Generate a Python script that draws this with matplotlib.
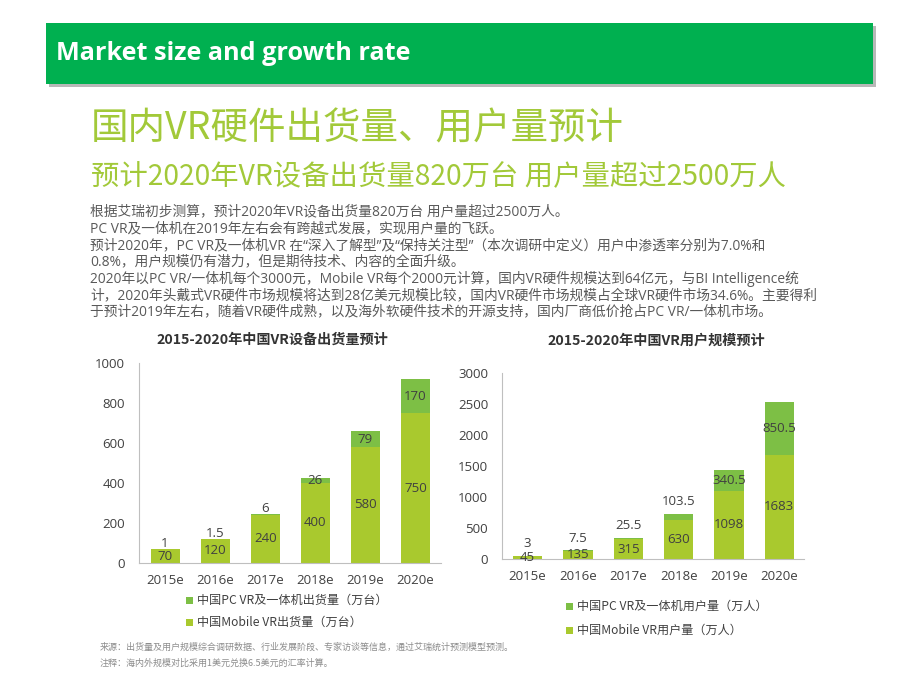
import matplotlib
matplotlib.use("Agg")
import matplotlib.pyplot as plt
from matplotlib.patches import Rectangle
import numpy as np

plt.rcParams['font.family'] = ['Noto Sans CJK SC', 'DejaVu Sans']
WIDE = ['Open Sans', 'Noto Sans CJK SC', 'DejaVu Sans']

years = ['2015e', '2016e', '2017e', '2018e', '2019e', '2020e']

# shipments (万台)
ship_mobile = [70, 120, 240, 400, 580, 750]
ship_pc = [1, 1.5, 6, 26, 79, 170]
ship_mobile_lbl = ['70', '120', '240', '400', '580', '750']
ship_pc_lbl = ['1', '1.5', '6', '26', '79', '170']

# users (万人)
user_mobile = [45, 135, 315, 630, 1098, 1683]
user_pc = [3, 7.5, 25.5, 103.5, 340.5, 850.5]
user_mobile_lbl = ['45', '135', '315', '630', '1098', '1683']
user_pc_lbl = ['3', '7.5', '25.5', '103.5', '340.5', '850.5']

header = 'Market size and growth rate'
title = '国内VR硬件出货量、用户量预计'
subtitle = '预计2020年VR设备出货量820万台 用户量超过2500万人'
body = [
    '根据艾瑞初步测算，预计2020年VR设备出货量820万台 用户量超过2500万人。',
    'PC VR及一体机在2019年左右会有跨越式发展，实现用户量的飞跃。',
    '预计2020年，PC VR及一体机VR 在“深入了解型”及“保持关注型”（本次调研中定义）用户中渗透率分别为7.0%和',
    '0.8%，用户规模仍有潜力，但是期待技术、内容的全面升级。',
    '2020年以PC VR/一体机每个3000元，Mobile VR每个2000元计算，国内VR硬件规模达到64亿元，与BI Intelligence统',
    '计，2020年头戴式VR硬件市场规模将达到28亿美元规模比较，国内VR硬件市场规模占全球VR硬件市场34.6%。主要得利',
    '于预计2019年左右，随着VR硬件成熟，以及海外软硬件技术的开源支持，国内厂商低价抢占PC VR/一体机市场。',
]
footer = [
    '来源：出货量及用户规模综合调研数据、行业发展阶段、专家访谈等信息，通过艾瑞统计预测模型预测。',
    '注释：海内外规模对比采用1美元兑换6.5美元的汇率计算。',
]

C_MOB = '#a9c92e'
C_PC = '#7dbf45'
C_TXT = '#404040'

W, H = 920, 690
fig = plt.figure(figsize=(9.2, 6.9), dpi=100)
fig.patch.set_facecolor('white')


def fx(px):
    return px / W


def fy(py):
    return 1 - py / H


# header band with shadow
fig.patches.append(Rectangle((fx(49), fy(87)), fx(827), 61 / H, transform=fig.transFigure,
                             facecolor='#b8b8b8', edgecolor='none', zorder=0))
fig.patches.append(Rectangle((fx(46), fy(84)), fx(827), 61 / H, transform=fig.transFigure,
                             facecolor='#00b050', edgecolor='none', zorder=1))
fig.text(fx(56), fy(54), header, color='white', fontsize=18.2, fontweight='bold',
         family=['Open Sans', 'DejaVu Sans'], va='center', ha='left', zorder=2)

fig.text(fx(91), fy(129), title, color='#a2c939', fontsize=27, va='center', ha='left')
fig.text(fx(91), fy(177), subtitle, color='#a2c939', fontsize=20.4, va='center', ha='left')

for i, line in enumerate(body):
    fig.text(fx(90), fy(212 + i * 16.7), line, color='#595959', fontsize=9.9,
             family=WIDE, va='center', ha='left')

for i, line in enumerate(footer):
    fig.text(fx(100), fy(647 + i * 16), line, color='#8c8c8c', fontsize=6.5, va='center', ha='left')


def stacked(ax, mobile, pc, mob_lbl, pc_lbl, ymax, step, small, off, va, ctitle, xlim, pad):
    x = np.arange(len(years))
    ax.bar(x, mobile, width=0.58, color=C_MOB, zorder=2)
    ax.bar(x, pc, width=0.58, bottom=mobile, color=C_PC, zorder=2)
    for i in range(len(x)):
        ax.text(x[i], mobile[i] / 2, mob_lbl[i], ha='center', va='center',
                fontsize=9.5, color=C_TXT, family=WIDE, zorder=3)
        top = mobile[i] + pc[i]
        if pc[i] < small:
            ax.annotate(pc_lbl[i], (x[i], top), xytext=(0, off), textcoords='offset points',
                        ha='center', va=va, fontsize=9.5, color=C_TXT, family=WIDE, zorder=3)
        else:
            ax.text(x[i], mobile[i] + pc[i] / 2, pc_lbl[i], ha='center', va='center',
                    fontsize=9.5, color=C_TXT, family=WIDE, zorder=3)
    ax.set_ylim(0, ymax)
    ax.set_yticks(np.arange(0, ymax + 1, step))
    ax.set_xlim(*xlim)
    ax.set_xticks(x)
    ax.set_xticklabels(years)
    for s in ['top', 'right']:
        ax.spines[s].set_visible(False)
    ax.spines['left'].set_color('#bfbfbf')
    ax.spines['bottom'].set_color('#bfbfbf')
    ax.tick_params(axis='both', length=0, labelsize=9.5, labelcolor=C_TXT)
    for lab in ax.get_xticklabels() + ax.get_yticklabels():
        lab.set_family(WIDE)
    ax.tick_params(axis='x', pad=8)
    ax.tick_params(axis='y', pad=10)
    ax.set_title(ctitle, fontsize=10.2, fontweight='bold', color='#333333', pad=pad)


# left chart
ax1 = fig.add_axes([fx(139), fy(563), fx(441 - 139), (563 - 363) / H])
stacked(ax1, ship_mobile, ship_pc, ship_mobile_lbl, ship_pc_lbl, 1000, 200, 20, 4, 'center',
        '2015-2020年中国VR设备出货量预计', (-0.52, 5.51), 14)
ax1.title.set_x(0.44)

# right chart
ax2 = fig.add_axes([fx(502), fy(559), fx(804 - 502), (559 - 373) / H])
stacked(ax2, user_mobile, user_pc, user_mobile_lbl, user_pc_lbl, 3000, 500, 200, 4, 'bottom',
        '2015-2020年中国VR用户规模预计', (-0.51, 5.49), 20.5)
ax2.title.set_x(0.51)

# legends
legend_items = [
    (190, 600, C_PC, '中国PC VR及一体机出货量（万台）'),
    (190, 622, C_MOB, '中国Mobile VR出货量（万台）'),
    (570, 606, C_PC, '中国PC VR及一体机用户量（万人）'),
    (570, 630, C_MOB, '中国Mobile VR用户量（万人）'),
]
for px, py, col, txt in legend_items:
    fig.patches.append(Rectangle((fx(px - 3.5), fy(py + 3.5)), 7 / W, 7 / H,
                                 transform=fig.transFigure, facecolor=col, edgecolor='none'))
    fig.text(fx(px + 7), fy(py), txt, color=C_TXT, fontsize=8.7, va='center', ha='left')

fig.savefig('out.png', dpi=100)
